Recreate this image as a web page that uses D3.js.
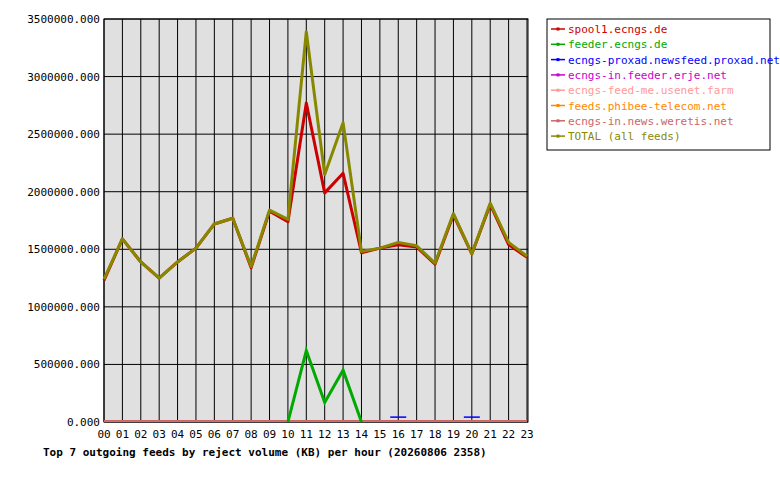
<!DOCTYPE html>
<html><head><meta charset="utf-8">
<script src="https://cdn.jsdelivr.net/npm/d3@7"></script>
<style>body{margin:0;background:#fff}</style></head><body>
<svg id="c" width="780" height="480"></svg>
<script>
const hours=["00","01","02","03","04","05","06","07","08","09","10","11","12","13","14","15","16","17","18","19","20","21","22","23"];
const yTicks=[0,500000,1000000,1500000,2000000,2500000,3000000,3500000];
const names=["spool1.ecngs.de","feeder.ecngs.de","ecngs-proxad.newsfeed.proxad.net","ecngs-in.feeder.erje.net","ecngs-feed-me.usenet.farm","feeds.phibee-telecom.net","ecngs-in.news.weretis.net","TOTAL (all feeds)"];
const colors=["#cc0000","#00aa00","#0000ff","#cc00cc","#ff9999","#ff8800","#cc6666","#888800"];
const spool1=[1230000,1590000,1390000,1250000,1390000,1510000,1720000,1770000,1340000,1830000,1740000,2770000,1990000,2160000,1470000,1510000,1540000,1520000,1370000,1800000,1460000,1890000,1540000,1430000];
const feeder=[0,0,0,0,0,0,0,0,0,0,0,620000,170000,450000,0,0,0,0,0,0,0,0,0,0];
const proxad=[0,0,0,0,0,0,0,0,0,0,0,0,0,0,0,0,25000,0,0,0,25000,0,0,0];
const erje=hours.map(()=>8000);
const usenetfarm=hours.map(()=>10000);
const phibee=hours.map(()=>9000);
const weretis=hours.map(()=>11000);
const total=[1240000,1590000,1390000,1250000,1390000,1510000,1720000,1770000,1350000,1840000,1760000,3390000,2150000,2600000,1480000,1510000,1560000,1530000,1380000,1810000,1460000,1900000,1560000,1440000];
const series=[spool1,feeder,proxad,erje,usenetfarm,phibee,weretis,total];
const svg=d3.select("#c");
const L=104,R=528,T=19,B=422;
const x=d3.scalePoint().domain(hours).range([L,R-1]);
const y=d3.scaleLinear().domain([0,3500000]).range([B,T]);
svg.append("rect").attr("x",L).attr("y",T).attr("width",R-L).attr("height",B-T).attr("fill","#e0e0e0").attr("stroke","#000");
const g=svg.append("g");
hours.forEach(h=>g.append("line").attr("x1",x(h)).attr("x2",x(h)).attr("y1",T).attr("y2",B).attr("stroke","#000").attr("stroke-width",1));
yTicks.forEach(v=>g.append("line").attr("x1",L).attr("x2",R).attr("y1",y(v)).attr("y2",y(v)).attr("stroke","#000"));
const font="'DejaVu Sans Mono',monospace";
yTicks.forEach(v=>svg.append("text").attr("x",L-4).attr("y",y(v)+4).attr("text-anchor","end").attr("font-family",font).attr("font-size",11).text(v.toFixed(3)));
hours.forEach(h=>svg.append("text").attr("x",x(h)).attr("y",B+16).attr("text-anchor","middle").attr("font-family",font).attr("font-size",11).text(h));
const line=d3.line().x((d,i)=>x(hours[i])).y(d=>y(d));
const order=[2,3,4,5,6,1,0,7];
order.forEach(k=>{
  const w=(k===0||k===1||k===7)?3:1.5;
  if(k===1){
    svg.append("path").attr("d",d3.line().x(d=>x(hours[d])).y(d=>y(feeder[d]))([10,11,12,13,14])).attr("fill","none").attr("stroke",colors[k]).attr("stroke-width",w);
  } else if(k===2){
    [16,20].forEach(i=>svg.append("line").attr("x1",x(hours[i])-8).attr("x2",x(hours[i])+8).attr("y1",y(proxad[i])-2).attr("y2",y(proxad[i])-2).attr("stroke",colors[k]).attr("stroke-width",1.5));
  } else {
    svg.append("path").attr("d",line(series[k])).attr("fill","none").attr("stroke",colors[k]).attr("stroke-width",w).attr("stroke-linejoin","round");
  }
});
svg.append("text").attr("x",43).attr("y",456).attr("font-family",font).attr("font-size",11).attr("font-weight","bold").text("Top 7 outgoing feeds by reject volume (KB) per hour (20260806 2358)");
const lg=svg.append("g");
lg.append("rect").attr("x",547).attr("y",19).attr("width",223).attr("height",131).attr("fill","#fff").attr("stroke","#000");
names.forEach((n,i)=>{
  const yy=33+i*15.3;
  lg.append("line").attr("x1",551).attr("x2",565).attr("y1",yy-4).attr("y2",yy-4).attr("stroke",colors[i]).attr("stroke-width",1.5);
  lg.append("rect").attr("x",556.5).attr("y",yy-5.5).attr("width",3).attr("height",3).attr("fill",colors[i]);
  lg.append("text").attr("x",568).attr("y",yy).attr("font-family",font).attr("font-size",11).attr("fill",colors[i]).text(n);
});
</script></body></html>
